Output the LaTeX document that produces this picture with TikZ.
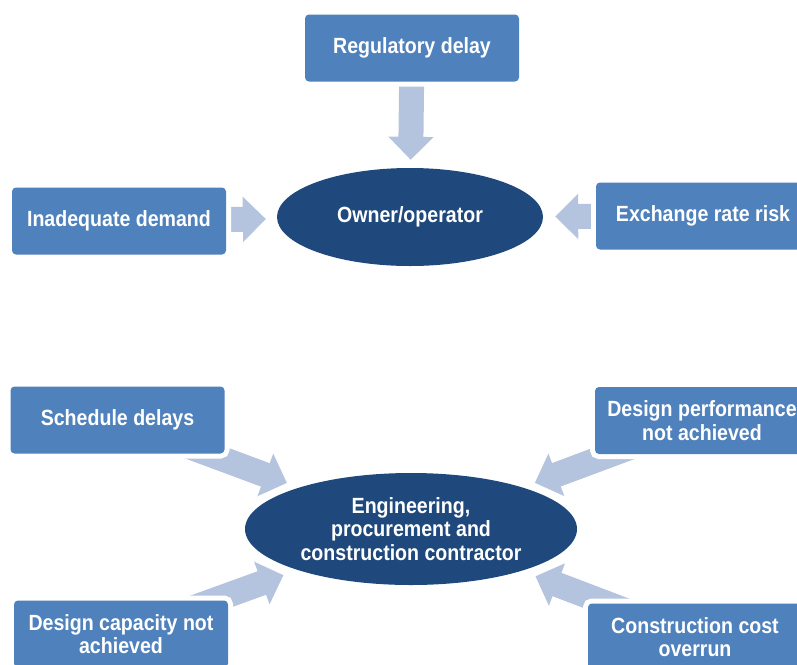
\documentclass[tikz,border=0pt]{standalone}
\usepackage{fontspec}
\setmainfont{Liberation Sans}[FakeStretch=0.89]
\usetikzlibrary{arrows.meta, shapes.geometric, backgrounds}

\definecolor{boxblue}{RGB}{79,129,189}
\definecolor{ellblue}{RGB}{31,73,125}
\definecolor{arrowblue}{RGB}{180,195,222}

\begin{document}
\begin{tikzpicture}[x=1pt, y=1pt,
  riskbox/.style={rectangle, rounded corners=4pt, fill=boxblue, text=white,
    font=\fontsize{22}{23.5}\selectfont\bfseries, align=center,
    minimum width=214pt, minimum height=67pt, inner sep=0pt,
    preaction={draw=white, line width=10pt}},
  party/.style={ellipse, fill=ellblue, text=white, inner sep=0pt,
    font=\fontsize{22}{23.5}\selectfont\bfseries, align=center},
  blockarrow/.style={draw=arrowblue, line width=25pt,
    -{Triangle[length=23pt, width=44pt]}}]
\useasboundingbox (0,-664) rectangle (797,0);

% owner/operator group
\node[riskbox] (regdelay) at (412,-48) {Regulatory delay};
\node[riskbox] (demand) at (119,-221) {Inadequate demand};
\node[riskbox] (fxrisk) at (703,-216) {Exchange rate risk};
\node[party, minimum width=266pt, minimum height=98pt] (owner) at (410,-217) {Owner/operator};

% EPC contractor group
\node[riskbox] (schedule) at (117.5,-420) {Schedule delays};
\node[riskbox] (perform) at (702,-420.5) {Design performance\\ not achieved};
\node[riskbox] (capacity) at (121,-634) {Design capacity not\\ achieved};
\node[riskbox] (costover) at (695,-637) {Construction cost\\ overrun};
\node[party, minimum width=332pt, minimum height=112pt] (epc) at (411,-529)
  {Engineering,\\ procurement and\\ construction contractor};

\begin{scope}[on background layer]
\draw[blockarrow, shorten >=8pt] (regdelay.center) -- (owner);
\draw[blockarrow, shorten >=11pt] (demand.center) -- (owner);
\draw[blockarrow, shorten >=12pt] (fxrisk.center) -- (owner);
\draw[blockarrow, shorten >=13pt] (schedule.center) -- (epc);
\draw[blockarrow, shorten >=13pt] (perform.center) -- (epc);
\draw[blockarrow, shorten >=15pt] (capacity.center) -- (epc);
\draw[blockarrow, shorten >=15pt] (costover.center) -- (epc);
\end{scope}
\end{tikzpicture}
\end{document}
